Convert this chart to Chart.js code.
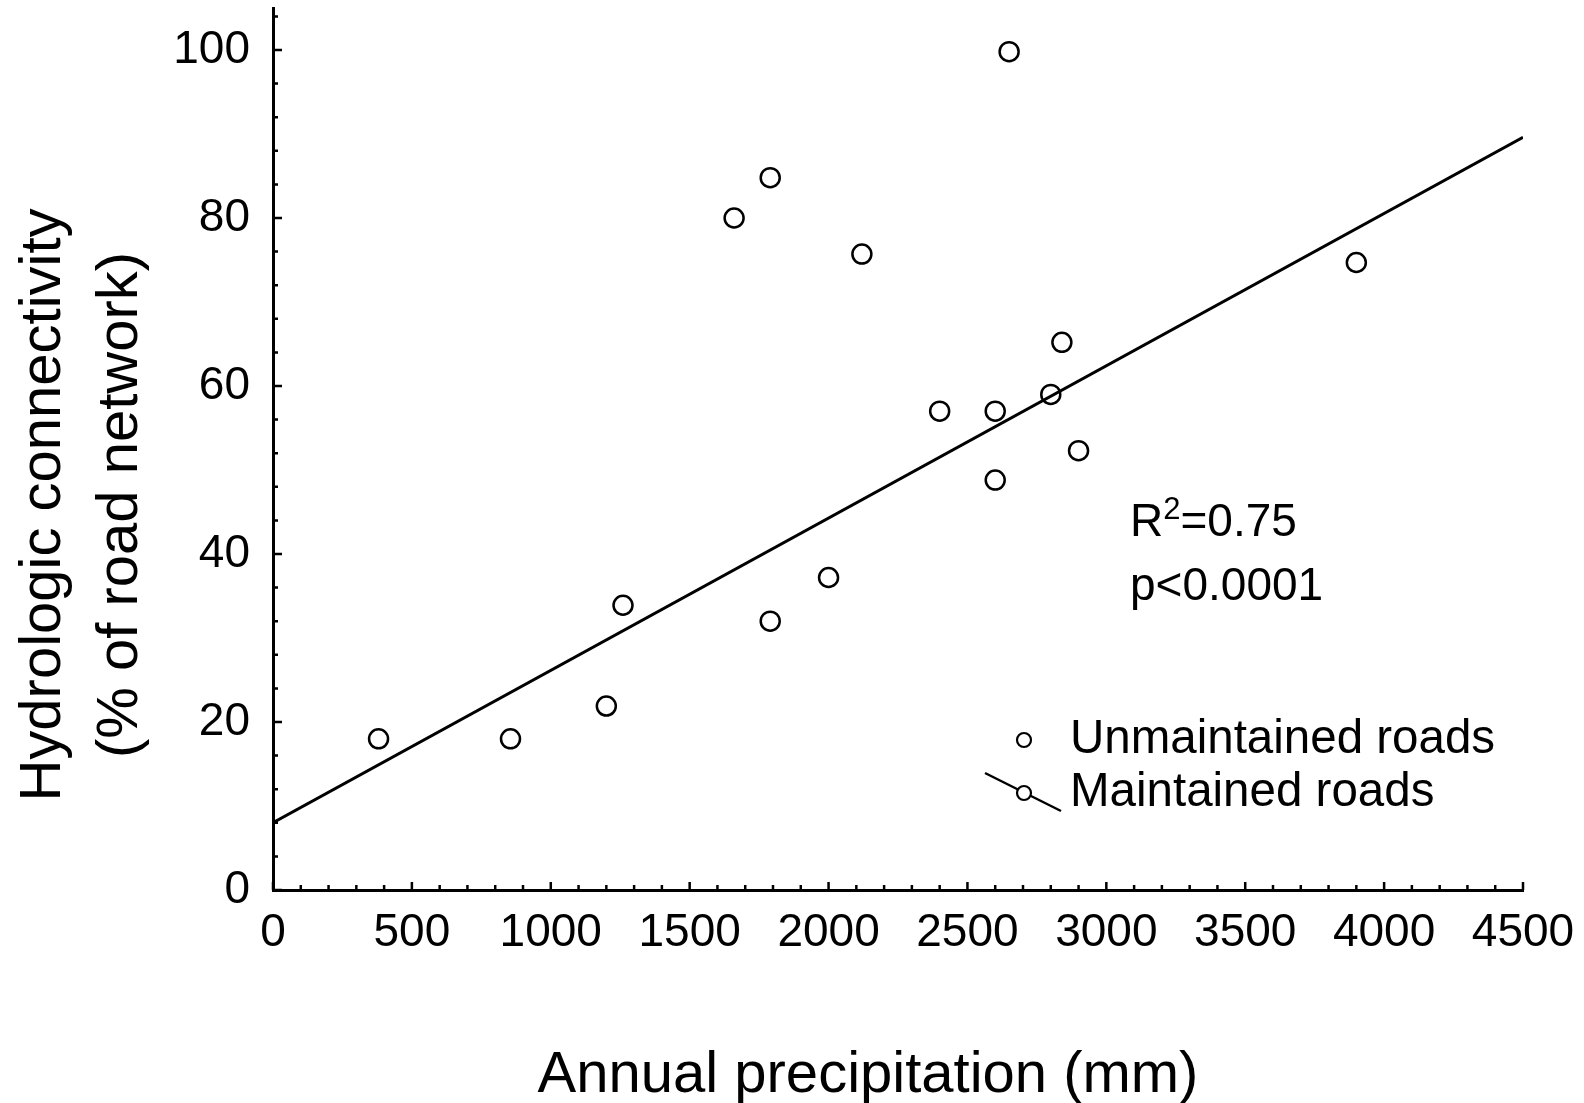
<!DOCTYPE html>
<html>
<head>
<meta charset="utf-8">
<script src="https://cdn.jsdelivr.net/npm/chart.js@4"></script>
<style>
  body { margin: 0; background: #fff; }
  canvas { display: block; }
</style>
</head>
<body>
<canvas id="myChart" width="1584" height="1103"></canvas>
<script>
// precipitation (mm) and connectivity (%)
const unmaintainedX = [1660, 1790, 2120, 2650];
const unmaintainedY = [80.0, 84.8, 75.7, 99.8];
const maintainedX = [380, 855, 1200, 1260, 1790, 2000, 2400, 2600, 2600, 2800, 2840, 2900, 3900];
const maintainedY = [18.0, 18.0, 21.9, 33.9, 32.0, 37.2, 57.0, 57.0, 48.8, 59.0, 65.2, 52.3, 74.7];
// fitted line, end points as drawn
const fitX = [0, 4500];
const fitY = [8.0, 89.6];

const xTicks = [0, 500, 1000, 1500, 2000, 2500, 3000, 3500, 4000, 4500];
const yTicks = [0, 20, 40, 60, 80, 100];
const xMinorStep = 100;
const yMinorStep = 4;

const FONT = "'Liberation Sans', Arial, sans-serif";

const toPoints = (xs, ys) => xs.map((x, i) => ({ x: x, y: ys[i] }));

const decor = {
  id: 'decor',
  afterDraw(chart) {
    const ctx = chart.ctx;
    const xs = chart.scales.x;
    const ys = chart.scales.y;
    const area = chart.chartArea;
    ctx.save();
    ctx.strokeStyle = '#000';
    ctx.fillStyle = '#000';

    // tick marks pointing into the plot
    ctx.lineWidth = 2.5;
    ctx.beginPath();
    for (let v = 0; v <= xs.max; v += xMinorStep) {
      const px = xs.getPixelForValue(v);
      const len = xTicks.includes(v) ? 8 : 5;
      ctx.moveTo(px, area.bottom);
      ctx.lineTo(px, area.bottom - len);
    }
    for (let v = 0; v <= ys.max; v += yMinorStep) {
      const py = ys.getPixelForValue(v);
      const len = yTicks.includes(v) ? 9 : 5;
      ctx.moveTo(area.left, py);
      ctx.lineTo(area.left + len, py);
    }
    ctx.stroke();

    // axis titles
    ctx.font = '58px ' + FONT;
    ctx.textAlign = 'center';
    ctx.textBaseline = 'alphabetic';
    ctx.fillText('Annual precipitation (mm)', 868, 1092);
    ctx.save();
    ctx.translate(0, 505);
    ctx.rotate(-Math.PI / 2);
    ctx.fillText('Hydrologic connectivity', 0, 60);
    ctx.fillText('(% of road network)', 0, 137);
    ctx.restore();

    // fit statistics
    ctx.textAlign = 'left';
    ctx.font = '46px ' + FONT;
    let tx = 1130;
    ctx.fillText('R', tx, 536);
    tx += ctx.measureText('R').width;
    ctx.font = '31px ' + FONT;
    ctx.fillText('2', tx, 519);
    tx += ctx.measureText('2').width;
    ctx.font = '46px ' + FONT;
    ctx.fillText('=0.75', tx, 536);
    ctx.fillText('p<0.0001', 1130, 600);

    // legend
    const rows = [
      { label: 'Unmaintained roads', y: 740, line: false },
      { label: 'Maintained roads', y: 793, line: true }
    ];
    ctx.font = '47.5px ' + FONT;
    rows.forEach(r => {
      if (r.line) {
        ctx.lineWidth = 2.5;
        ctx.beginPath();
        ctx.moveTo(985, r.y - 20);
        ctx.lineTo(1061, r.y + 18);
        ctx.stroke();
      }
      ctx.lineWidth = 2.2;
      ctx.beginPath();
      ctx.arc(1024, r.y, 7, 0, Math.PI * 2);
      ctx.fillStyle = '#fff';
      ctx.fill();
      ctx.stroke();
      ctx.fillStyle = '#000';
      ctx.textBaseline = 'middle';
      ctx.fillText(r.label, 1070, r.y);
    });
    ctx.restore();
  }
};

const pointStyle = {
  showLine: false,
  pointStyle: 'circle',
  pointRadius: 9.5,
  pointHoverRadius: 9.5,
  pointBorderWidth: 2.5,
  pointBorderColor: '#000',
  pointBackgroundColor: 'rgba(0,0,0,0)',
  borderColor: '#000'
};

const myChart = new Chart('myChart', {
  type: 'scatter',
  data: {
    datasets: [
      Object.assign({ label: 'Unmaintained roads', data: toPoints(unmaintainedX, unmaintainedY) }, pointStyle),
      Object.assign({ label: 'Maintained roads', data: toPoints(maintainedX, maintainedY) }, pointStyle),
      {
        type: 'line',
        label: 'Fit',
        data: toPoints(fitX, fitY),
        borderColor: '#000',
        borderWidth: 3,
        pointRadius: 0,
        fill: false,
        tension: 0
      }
    ]
  },
  options: {
    responsive: false,
    devicePixelRatio: 1,
    animation: false,
    layout: { autoPadding: false, padding: { left: 0, top: 8, right: 61, bottom: 0 } },
    plugins: {
      legend: { display: false },
      tooltip: { enabled: false }
    },
    scales: {
      x: {
        type: 'linear',
        min: 0,
        max: 4500,
        grid: { display: false, drawTicks: false },
        border: { display: true, color: '#000', width: 3 },
        ticks: {
          color: '#000',
          font: { family: FONT, size: 46 },
          padding: 16,
          maxRotation: 0,
          callback: v => String(v)
        },
        afterBuildTicks: s => { s.ticks = xTicks.map(v => ({ value: v })); },
        afterFit: s => { s.height = 213; s.paddingLeft = 0; s.paddingRight = 0; }
      },
      y: {
        type: 'linear',
        min: 0,
        max: 105,
        grid: { display: false, drawTicks: false },
        border: { display: true, color: '#000', width: 3 },
        ticks: {
          color: '#000',
          font: { family: FONT, size: 46 },
          padding: 23,
          callback: v => String(v)
        },
        afterBuildTicks: s => { s.ticks = yTicks.map(v => ({ value: v })); },
        afterFit: s => { s.width = 273; s.paddingTop = 0; s.paddingBottom = 0; }
      }
    }
  },
  plugins: [decor]
});
</script>
</body>
</html>
